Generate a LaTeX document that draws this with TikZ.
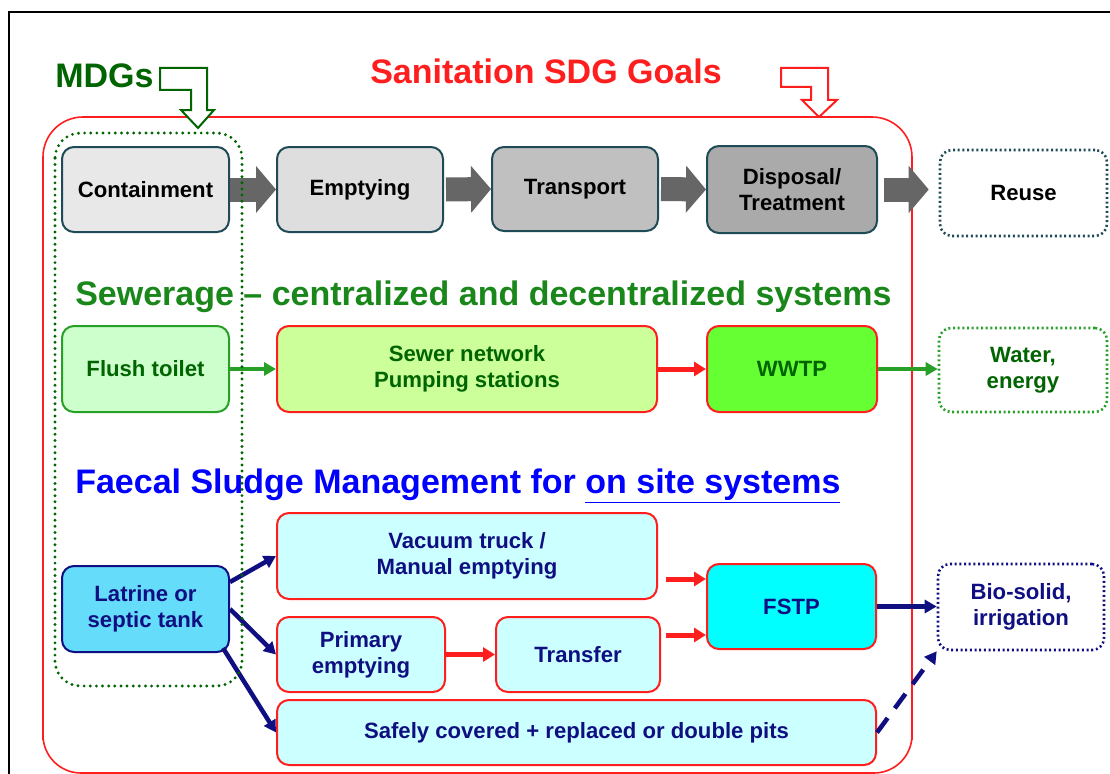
\documentclass[tikz,border=0pt]{standalone}
\usepackage{fontspec}
\setmainfont{Liberation Sans}
\usetikzlibrary{arrows.meta,calc}
\newdimen\px \px=0.75pt
\definecolor{teal1}{RGB}{30,75,85}
\definecolor{dgreen}{RGB}{0,100,0}
\definecolor{hgreen}{RGB}{25,135,25}
\definecolor{bgreen}{RGB}{40,160,40}
\definecolor{navy1}{RGB}{15,15,130}
\definecolor{sred}{RGB}{255,30,30}
\definecolor{g1}{RGB}{232,232,232}
\definecolor{g2}{RGB}{222,222,222}
\definecolor{g3}{RGB}{192,192,192}
\definecolor{g4}{RGB}{170,170,170}
\definecolor{garr}{RGB}{102,102,102}
\definecolor{lgreen}{RGB}{204,255,204}
\definecolor{ygreen}{RGB}{204,255,153}
\definecolor{vgreen}{RGB}{102,255,51}
\definecolor{lcyan}{RGB}{204,255,255}
\definecolor{cyan1}{RGB}{0,255,255}
\definecolor{sky}{RGB}{100,220,250}
\tikzset{
  box/.style={draw, rounded corners=9pt, line width=1.5pt, align=center,
    font=\fontsize{16.6pt}{19.5pt}\selectfont\bfseries, inner sep=0pt},
  topbox/.style={box, draw=teal1, text=black},
  sewbox/.style={box, draw=sred, text=dgreen},
  fsbox/.style={box, draw=sred, text=navy1},
  grayarrow/.style={draw=garr, line width=18pt, -{Triangle[length=15pt,width=34.5pt]}},
  garrow/.style={draw=bgreen, line width=3pt, -{Triangle[length=9pt,width=9.75pt]}},
  rarrow/.style={draw=sred, line width=3.75pt, -{Triangle[length=9pt,width=10.5pt]}},
  narrow/.style={draw=navy1, line width=3.4pt, -{Triangle[length=9pt,width=9.75pt]}},
  title/.style={font=\fontsize{25.5pt}{30pt}\selectfont\bfseries, inner sep=0pt, anchor=base west},
}
\begin{document}
\begin{tikzpicture}[x=0.75pt,y=-0.75pt]
\useasboundingbox (0,0) rectangle (1110,774);
\fill[white] (0,0) rectangle (1110,774);
% outer frame
\draw[line width=1.5pt] (9,780) -- (9,12) -- (1115,12);
% red SDG frame
\draw[sred, line width=1.2pt, rounded corners=30pt] (43,740) -- (43,117) -- (912,117) -- (912,740);
\draw[sred, line width=1.2pt] (43,735) arc[start angle=180, end angle=90, radius=38] -- (874,773) arc[start angle=90, end angle=0, radius=38];

% titles
\node[title, text=dgreen] (mdg) at (55,88) {MDGs};
\node[title, text=sred] (sdg) at (370,84) {Sanitation SDG Goals};
\node[title, text=hgreen] (sew) at (75,305) {Sewerage -- centralized and decentralized systems};
\node[title, text=blue] (fsm) at (75,493) {Faecal Sludge Management for \underline{on site systems}};

% bent arrows
\draw[dgreen, line width=1.5pt, fill=white, line join=miter]
  (160,68) -- (207,68) -- (207,110) -- (214,110) -- (198,128) -- (181,110) -- (191,110) -- (191,90) -- (160,90) -- cycle;
\draw[sred, line width=1.5pt, fill=white, line join=miter]
  (781,68) -- (828,68) -- (828,100) -- (837,100) -- (819,117) -- (802,100) -- (811,100) -- (811,87) -- (781,87) -- cycle;

% top row
\node[topbox, fill=g1, minimum width=167\px, minimum height=85\px] (cont) at (145.5,189.5) {Containment};
\node[topbox, fill=g2, minimum width=166\px, minimum height=85\px] (empt) at (360,189.5) {Emptying};
\node[topbox, fill=g3, minimum width=166\px, minimum height=84\px] (trans) at (575,189) {Transport};
\node[topbox, fill=g4, minimum width=170\px, minimum height=87\px] (disp) at (792,189.5) {Disposal/\\Treatment};
\node[box, draw=teal1, dotted, line width=1.9pt, fill=white, minimum width=167\px, minimum height=86\px] (reuse) at (1023.5,193) {Reuse};

\draw[grayarrow] (cont.east) -- (empt.west);
\draw[grayarrow, shorten <=2\px] (empt.east) -- (trans.west);
\draw[grayarrow, shorten <=2\px] (trans.east) -- (disp.west);
\draw[grayarrow, shorten <=6\px, shorten >=10\px] (disp.east) -- (disp.east -| reuse.west);

% sewerage row
\node[box, draw=bgreen, text=dgreen, fill=lgreen, minimum width=167\px, minimum height=86\px] (flush) at (145.5,369) {Flush toilet};
\node[sewbox, fill=ygreen, minimum width=380\px, minimum height=86\px] (sewer) at (467,369) {Sewer network\\Pumping stations};
\node[sewbox, fill=vgreen, minimum width=170\px, minimum height=86\px] (wwtp) at (792,369) {WWTP};
\node[box, draw=bgreen, text=dgreen, dotted, line width=1.9pt, fill=white, minimum width=168\px, minimum height=84\px] (water) at (1023,370) {Water,\\energy};

\draw[garrow] (flush.east) -- (sewer.west);
\draw[rarrow] (sewer.east) -- (wwtp.west);
\draw[garrow] (wwtp.east) -- (wwtp.east -| water.west);

% FSM row
\node[box, draw=navy1, text=navy1, fill=sky, minimum width=167\px, minimum height=86\px] (latr) at (145.5,609) {Latrine or\\septic tank};
\node[fsbox, fill=lcyan, minimum width=380\px, minimum height=86\px] (vac) at (467,556) {Vacuum truck /\\Manual emptying};
\node[fsbox, fill=lcyan, minimum width=168\px, minimum height=75\px] (prim) at (361,654.5) {Primary\\emptying};
\node[fsbox, fill=lcyan, minimum width=164\px, minimum height=75\px] (transf) at (578,654.5) {Transfer};
\node[fsbox, fill=cyan1, minimum width=169\px, minimum height=85\px] (fstp) at (791.5,606.5) {FSTP};
\node[fsbox, fill=lcyan, minimum width=599\px, minimum height=65\px] (safe) at (576.5,732.5) {Safely covered + replaced or double pits};
\node[box, draw=navy1, text=navy1, dotted, line width=1.9pt, fill=white, minimum width=166\px, minimum height=86\px] (bio) at (1021,607) {Bio-solid,\\irrigation};

\coordinate (la1) at ($(latr.east)+(0,-27)$);
\coordinate (la3) at ($(latr.south east)+(-7,-5)$);
\draw[narrow] (la1) -- (vac.west);
\draw[narrow] (latr.east) -- (prim.west);
\draw[narrow] (la3) -- (safe.west);

\coordinate (fa) at ($(fstp.west)+(0,-27.5)$);
\coordinate (fb) at ($(fstp.west)+(0,28.5)$);
\draw[rarrow] ($(vac.east |- fa)+(8,0)$) -- (fa);
\draw[rarrow] ($(transf.east |- fb)+(5,0)$) -- (fb);
\draw[rarrow] (prim.east) -- (transf.west);
\draw[narrow] (fstp.east) -- (fstp.east -| bio.west);
\draw[narrow, dash pattern=on 13.5pt off 9pt] (safe.east) -- (bio.south west);

% MDG dotted frame
\draw[dgreen, line width=2.4pt, line cap=round, dash pattern=on 0pt off 4.6pt, rounded corners=19pt] (55,133) rectangle (242,686);
\end{tikzpicture}
\end{document}
